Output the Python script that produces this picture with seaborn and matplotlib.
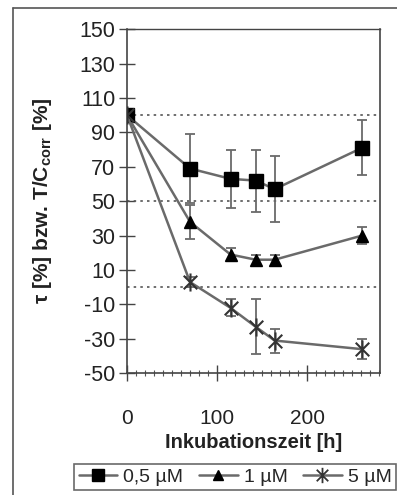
import numpy as np
import pandas as pd
import matplotlib
matplotlib.use("Agg")
import matplotlib.pyplot as plt
from matplotlib.path import Path
from matplotlib.lines import Line2D
import seaborn as sns

# ---- data ----
hours = [0, 70, 115, 143, 164, 261]
series_names = ["0,5 µM", "1 µM", "5 µM"]
vals_05 = [100, 69, 63, 62, 57, 81]
err_05 = [0, 20, 17, 18, 19, 16]
vals_1 = [100, 38, 19, 16, 16, 30]
err_1 = [0, 10, 4, 3, 3, 5]
vals_5 = [100, 3, -12, -23, -31, -36]
err_5 = [0, 3, 5, 16, 7, 6]
y_ticks = [150, 130, 110, 90, 70, 50, 30, 10, -10, -30, -50]
x_ticks = [0, 100, 200]
grid_levels = [100, 50, 0]

sns.set_theme(style="white")
plt.rcParams["font.family"] = ["Liberation Sans", "DejaVu Sans"]
plt.rcParams["axes.unicode_minus"] = False

star = Path([(0, -1), (0, 1), (-0.75, -0.75), (0.75, 0.75), (-0.75, 0.75), (0.75, -0.75)],
            [Path.MOVETO, Path.LINETO, Path.MOVETO, Path.LINETO, Path.MOVETO, Path.LINETO])
markers = {"0,5 µM": "s", "1 µM": "^", "5 µM": star}
sizes = {"0,5 µM": 10, "1 µM": 9, "5 µM": 13}

df = pd.concat([
    pd.DataFrame({"t": hours, "v": v, "e": e, "s": n})
    for v, e, n in zip([vals_05, vals_1, vals_5], [err_05, err_1, err_5], series_names)
])

fig = plt.figure(figsize=(3.97, 4.95), dpi=100)
ax = fig.add_axes([0.320, 0.246, 0.637, 0.695])

line_col = "#6a6a6a"
for n in series_names:
    d = df[df.s == n]
    ax.errorbar(d.t, d.v, yerr=d.e, fmt="none", ecolor=line_col, elinewidth=1.3,
                capsize=3.5, capthick=1.3, zorder=2)
    sns.lineplot(data=d, x="t", y="v", ax=ax, color=line_col, linewidth=1.8,
                 marker=markers[n], markersize=sizes[n], markerfacecolor="black",
                 markeredgecolor="black" if n != "5 µM" else "#333333",
                 markeredgewidth=1.0 if n != "5 µM" else 1.5, legend=False, zorder=3)

for g in grid_levels:
    ax.axhline(g, color="#555555", linestyle=(0, (1.5, 2.5)), linewidth=1.2, zorder=1)

ax.set_xlim(0, 281)
ax.set_ylim(-50, 150)
ax.set_yticks(y_ticks)
ax.set_yticklabels([str(t) for t in y_ticks])
ax.set_xticks(x_ticks)
ax.set_xticks(np.arange(0, 281, 10), minor=True)
ax.tick_params(axis="y", which="major", direction="inout", length=11, width=1,
               color="#444444", labelsize=15.5, pad=3, left=True)
ax.tick_params(axis="x", which="major", direction="inout", length=11, width=1,
               color="#444444", labelsize=15, pad=20, bottom=True)
ax.tick_params(axis="x", which="minor", direction="inout", length=5, width=0.8,
               color="#555555", bottom=True)
for lab in ax.get_yticklabels() + ax.get_xticklabels():
    lab.set_color("#222222")

for sp in ax.spines.values():
    sp.set_color("#444444")
    sp.set_linewidth(1.2)
ax.spines["top"].set_linewidth(1.0)

ax.set_xlabel("Inkubationszeit [h]", fontsize=14.5, fontweight="bold", color="#222222", labelpad=2)
ax.set_ylabel(r"τ [%] bzw. T/C$_{\mathregular{corr}}$ [%]", fontsize=15, fontweight="bold",
              color="#222222", labelpad=8)
ax.yaxis.set_label_coords(-0.29, 0.5)
ax.xaxis.set_label_coords(0.5, -0.175)

handles = [Line2D([0], [0], color=line_col, linewidth=1.8, marker=markers[n],
                  markersize=sizes[n] * 0.85, markerfacecolor="black",
                  markeredgecolor="black" if n != "5 µM" else "#333333",
                  markeredgewidth=1.0 if n != "5 µM" else 1.3)
           for n in series_names]
leg = fig.legend(handles, series_names, loc="center", bbox_to_anchor=(0.592, 0.036),
                 ncol=3, frameon=True, fancybox=False, fontsize=14, handlelength=2.0,
                 handletextpad=0.3, columnspacing=0.8, borderpad=0.22, borderaxespad=0)
leg.get_frame().set_edgecolor("#444444")
leg.get_frame().set_linewidth(1.2)

# outer frame (top and left edges)
fig.add_artist(Line2D([13 / 397, 13 / 397], [0, 1 - 8 / 495], transform=fig.transFigure,
                      color="#555555", linewidth=1.2))
fig.add_artist(Line2D([13 / 397, 1], [1 - 8 / 495, 1 - 8 / 495], transform=fig.transFigure,
                      color="#555555", linewidth=1.2))

fig.savefig("out.png", dpi=100)
